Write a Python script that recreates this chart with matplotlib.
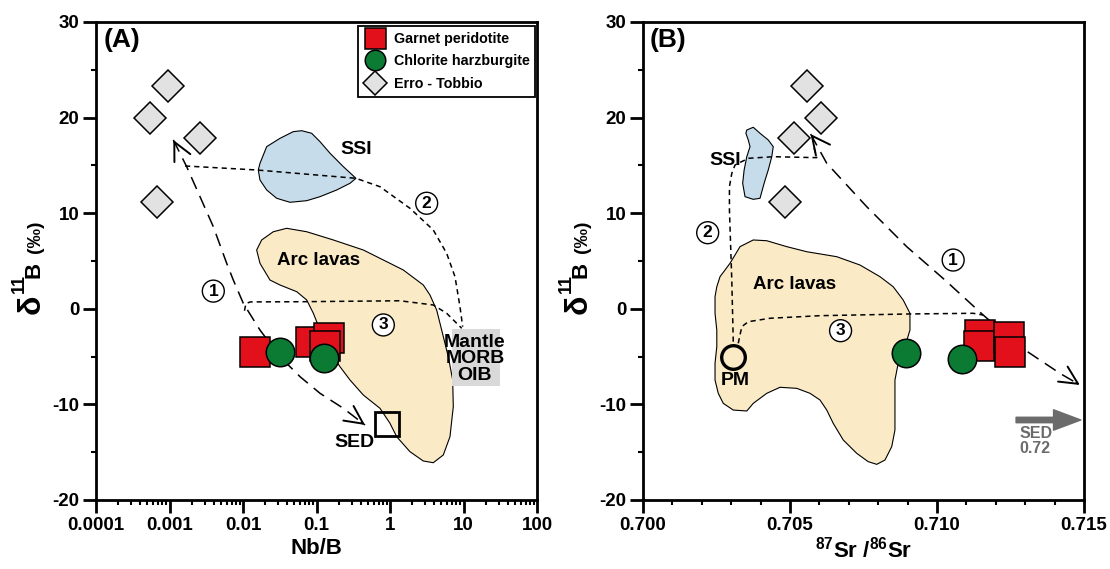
import numpy as np
import matplotlib
matplotlib.use('Agg')
import matplotlib.pyplot as plt
from matplotlib.patches import Rectangle
from matplotlib.ticker import MultipleLocator, LogLocator, NullFormatter, FixedLocator, FixedFormatter

plt.rcParams['font.family'] = ['Liberation Sans', 'DejaVu Sans']
plt.rcParams['font.weight'] = 'bold'
plt.rcParams['axes.unicode_minus'] = False
plt.rcParams['mathtext.fontset'] = 'custom'
plt.rcParams['mathtext.rm'] = 'Liberation Sans:bold'
plt.rcParams['mathtext.default'] = 'rm'

# ---------------- colours ----------------
RED = '#E2101B'
GREEN = '#0B7A33'
DIAM = '#E2E2E2'
SSI_C = '#C6DCEA'
ARC_C = '#FAEBC6'
BOX_C = '#D9D9D9'

# ---------------- data: panel A (Nb/B) ----------------
gp_nbb = [0.0144, 0.0841, 0.149, 0.1306]
gp_d11b_a = [-4.52, -3.44, -3.02, -3.92]
ch_nbb = [0.0318, 0.1276]
ch_d11b_a = [-4.49, -5.11]
et_nbb = [0.000964, 0.000543, 0.0026, 0.000682]
et_d11b = [23.31, 19.99, 17.90, 11.14]
sed_nbb = [0.90]
sed_d11b = [-12.0]

arc_a_log = [-1.746, -1.814, -1.769, -1.633, -1.497, -1.269, -1.133, -1.043, -0.952, -0.816,
             -0.680, -0.544, -0.363, -0.136, 0.0, 0.091, 0.272, 0.453, 0.589, 0.725,
             0.816, 0.861, 0.853, 0.793, 0.703, 0.635, 0.544, 0.453, 0.363, 0.181,
             -0.045, -0.363, -0.771, -1.133, -1.406, -1.588]
arc_a_y = [7.2, 6.15, 4.76, 3.01, 2.49, 1.79, 0.92, -0.47, -2.22, -4.49,
           -6.06, -7.45, -9.02, -10.41, -11.98, -13.38, -14.95, -15.92, -16.10, -15.29,
           -13.38, -10.24, -7.45, -5.01, -2.22, -0.13, 1.44, 2.49, 3.01, 4.06,
           4.93, 6.15, 7.2, 8.06, 8.42, 8.06]
ssi_a_log = [-1.769, -1.678, -1.497, -1.316, -1.202, -1.066, -0.952, -0.816, -0.635, -0.463,
             -0.544, -0.725, -0.952, -1.133, -1.361, -1.542, -1.678, -1.769, -1.792]
ssi_a_y = [15.22, 16.96, 17.83, 18.53, 18.63, 18.36, 17.48, 16.27, 14.87, 13.65,
           13.13, 12.43, 11.73, 11.31, 11.14, 11.56, 12.43, 13.47, 14.52]

path1_a_log = [-2.948, -2.925, -2.766, -2.585, -2.404, -2.222, -2.132, -1.996, -1.769,
               -1.497, -1.224, -0.952, -0.635, -0.340]
path1_a_y = [17.66, 17.31, 14.86, 11.73, 8.59, 4.76, 3.01, 0.57, -2.22,
             -5.01, -7.10, -8.84, -10.41, -12.15]
path2_a_log = [-2.789, -1.814, -0.463, -0.136, 0.272, 0.589, 0.771, 0.884, 0.907, 0.952, 0.989]
path2_a_y = [14.94, 14.52, 13.65, 12.77, 10.51, 8.24, 5.80, 3.36, 2.31, 0.22, -1.87]
path3_a_log = [-1.98, -1.96, -1.90, -1.224, 0.136, 0.589, 0.771, 0.976]
path3_a_y = [-0.2, 0.55, 0.72, 0.74, 0.84, 0.40, -0.47, -2.04]

xticks_a = [0.0001, 0.001, 0.01, 0.1, 1, 10, 100]
xticklabels_a = ['0.0001', '0.001', '0.01', '0.1', '1', '10', '100']

# ---------------- data: panel B (87Sr/86Sr) ----------------
gp_sr = [0.71146, 0.71142, 0.71244, 0.71247]
gp_d11b_b = [-2.74, -3.89, -2.98, -4.52]
ch_sr = [0.70895, 0.71084]
ch_d11b_b = [-4.66, -5.22]
et_sr = [0.70557, 0.70605, 0.70515, 0.70484]
pm_sr = [0.70305]
pm_d11b = [-5.0]

arc_b_x = [0.70296, 0.70330, 0.70375, 0.70421, 0.70489, 0.70557, 0.70659, 0.70738, 0.70806,
           0.70851, 0.70885, 0.70908, 0.70908, 0.70891, 0.70868, 0.70857, 0.70857, 0.70857,
           0.70846, 0.70823, 0.70795, 0.70766, 0.70727, 0.70681, 0.70647, 0.70625, 0.70602,
           0.70568, 0.70523, 0.70466, 0.70421, 0.70375, 0.70353, 0.70307, 0.70273, 0.70256,
           0.70245, 0.70245, 0.70251, 0.70251, 0.70245, 0.70245, 0.70251, 0.70262, 0.70279]
arc_b_y = [4.76, 6.5, 7.2, 7.12, 6.5, 5.97, 5.45, 4.58, 3.36,
           2.31, 0.92, -0.47, -2.22, -3.96, -5.7, -7.45, -10.24, -12.68,
           -14.42, -15.82, -16.27, -15.99, -15.12, -13.72, -11.98, -10.59, -9.54,
           -8.84, -8.32, -8.21, -8.84, -9.89, -10.69, -10.59, -9.89, -8.84,
           -7.45, -5.7, -3.96, -2.22, -0.47, 1.27, 2.31, 3.36, 4.06]
ssi_b_x = [0.70353, 0.70375, 0.70398, 0.70426, 0.70443, 0.70438, 0.70426, 0.70412, 0.70398,
           0.70375, 0.70347, 0.70339, 0.70344, 0.70353, 0.70364, 0.70358, 0.70350]
ssi_b_y = [18.7, 18.99, 18.36, 17.66, 16.96, 15.91, 14.52, 13.13, 11.56,
           11.45, 11.73, 13.13, 14.52, 15.91, 16.96, 17.66, 18.36]

path1_b_x = [0.70570, 0.70625, 0.70761, 0.70897, 0.71027, 0.71157, 0.71282, 0.71418, 0.71486]
path1_b_y = [18.28, 15.22, 10.68, 6.50, 3.01, -0.65, -3.96, -6.75, -7.97]
path2_b_x = [0.70307, 0.70302, 0.70294, 0.70294, 0.70302, 0.70313, 0.70358, 0.70443, 0.70591, 0.70582]
path2_b_y = [-3.44, 3.01, 10.33, 12.77, 14.17, 15.04, 15.74, 15.91, 15.81, 16.82]
path3_b_x = [0.70324, 0.70336, 0.70358, 0.70432, 0.70602, 0.70908, 0.71123, 0.71157]
path3_b_y = [-3.61, -1.87, -1.35, -0.99, -0.72, -0.54, -0.47, -0.65]
sed_arrow_x = [0.71269, 0.71489]
sed_arrow_y = [-11.63, -11.63]

xticks_b = [0.700, 0.705, 0.710, 0.715]
xticklabels_b = ['0.700', '0.705', '0.710', '0.715']
yticks = [-20, -10, 0, 10, 20, 30]
yticklabels = ['-20', '-10', '0', '10', '20', '30']

# ---------------- figure ----------------
fig = plt.figure(figsize=(11.10, 5.69), dpi=100)
axA = fig.add_axes([96 / 1110, 69 / 569, 441 / 1110, 478 / 569])
axB = fig.add_axes([643 / 1110, 69 / 569, 441 / 1110, 478 / 569])

LONG = (8.5, 5.0)
SHORT = (3.4, 2.6)
TICK_FS = 13.5


def style_axes(ax):
    for s in ax.spines.values():
        s.set_linewidth(2.0)
    ax.set_ylim(-20, 30)
    ax.yaxis.set_major_locator(FixedLocator(yticks))
    ax.yaxis.set_major_formatter(FixedFormatter(yticklabels))
    ax.yaxis.set_minor_locator(MultipleLocator(5))
    ax.tick_params(which='major', direction='out', length=9.5, width=2.0, labelsize=TICK_FS, pad=2.5)
    ax.tick_params(which='minor', direction='out', length=3.5, width=1.5)
    ax.tick_params(top=False, right=False, which='both')


def bold_ticks(ax):
    for lab in ax.get_xticklabels() + ax.get_yticklabels():
        lab.set_fontweight('bold')


def arrowhead(ax, tip, prev):
    p1 = ax.transData.transform(tip)
    p0 = ax.transData.transform(prev)
    d = p0 - p1
    d = d / np.hypot(*d) * 4.0
    ax.annotate('', xy=tip, xytext=(d[0] * 0.72, d[1] * 0.72), textcoords='offset points',
                arrowprops=dict(arrowstyle='->,head_length=0.65,head_width=0.32',
                                lw=1.4, color='black', mutation_scale=20,
                                shrinkA=0, shrinkB=0), zorder=6)


def circled(ax, x, y, s):
    ax.text(x, y, s, ha='center', va='center', fontsize=12.5, fontweight='bold', zorder=7,
            bbox=dict(boxstyle='circle,pad=0.2', fc='white', ec='black', lw=1.0))


def ylabel_pieces(ax):
    kw = dict(transform=ax.transAxes, rotation=90, ha='center', va='center', fontweight='bold')
    ax.text(-0.147, 0.410, 'δ', fontsize=23, **kw)
    ax.text(-0.173, 0.452, '11', fontsize=13, **kw)
    ax.text(-0.141, 0.481, 'B', fontsize=16, **kw)
    ax.text(-0.138, 0.551, '(‰)', fontsize=14, **kw)


# ================= Panel A =================
ax = axA
ax.set_xscale('log')
ax.set_xlim(1e-4, 100)
style_axes(ax)
ax.xaxis.set_major_locator(FixedLocator(xticks_a))
ax.xaxis.set_major_formatter(FixedFormatter(xticklabels_a))
ax.xaxis.set_minor_locator(LogLocator(base=10, subs=np.arange(2, 10)))
ax.xaxis.set_minor_formatter(NullFormatter())
bold_ticks(ax)

ax.fill(np.power(10.0, arc_a_log), arc_a_y, fc=ARC_C, ec='black', lw=0.8, zorder=1)
ax.fill(np.power(10.0, ssi_a_log), ssi_a_y, fc=SSI_C, ec='black', lw=0.8, zorder=1)

ax.add_patch(Rectangle((10 ** 0.839, -8.08), 10 ** 1.497 - 10 ** 0.839, 5.93,
                       fc=BOX_C, ec='none', zorder=2))
ax.text(10 ** 1.156, -5.25, 'Mantle\nMORB\nOIB', ha='center', va='center', fontsize=14,
        fontweight='bold', linespacing=0.98, zorder=3)

p1x = np.power(10.0, path1_a_log)
ax.plot(p1x, path1_a_y, color='black', lw=1.1, dashes=LONG, zorder=4)
ax.plot(np.power(10.0, path2_a_log), path2_a_y, color='black', lw=1.1, dashes=SHORT, zorder=4)
ax.plot(np.power(10.0, path3_a_log), path3_a_y, color='black', lw=1.1, dashes=SHORT, zorder=4)
arrowhead(ax, (p1x[0], path1_a_y[0]), (p1x[2], path1_a_y[2]))
arrowhead(ax, (p1x[-1], path1_a_y[-1]), (p1x[-3], path1_a_y[-3]))

circled(ax, 10 ** -2.404, 1.85, '1')
circled(ax, 10 ** 0.499, 11.04, '2')
circled(ax, 10 ** -0.091, -1.69, '3')

ax.text(10 ** -0.458, 16.68, 'SSI', ha='center', va='center', fontsize=14, fontweight='bold', zorder=3)
ax.text(10 ** -0.975, 5.03, 'Arc lavas', ha='center', va='center', fontsize=13.5, fontweight='bold', zorder=3)
ax.text(10 ** -0.49, -14.0, 'SED', ha='center', va='center', fontsize=14, fontweight='bold', zorder=3)

ax.plot(sed_nbb, sed_d11b, 's', ms=17.5, mfc='none', mec='black', mew=2.0, zorder=5)
hg, = ax.plot(gp_nbb, gp_d11b_a, 's', ms=21, mfc=RED, mec='black', mew=1.1, ls='none',
              zorder=8, label='Garnet peridotite')
hc, = ax.plot(ch_nbb, ch_d11b_a, 'o', ms=20.5, mfc=GREEN, mec='black', mew=1.1, ls='none',
              zorder=9, label='Chlorite harzburgite')
hd, = ax.plot(et_nbb, et_d11b, 'D', ms=16.5, mfc=DIAM, mec='black', mew=1.1, ls='none',
              zorder=8, label='Erro - Tobbio')

leg = ax.legend(handles=[hg, hc, hd], loc='upper right', bbox_to_anchor=(0.996, 0.992),
                borderaxespad=0, fancybox=False, edgecolor='black', framealpha=1,
                markerscale=0.72, fontsize=10.3, handlelength=1.55, handletextpad=0.55,
                labelspacing=0.62, borderpad=0.4)
leg.get_frame().set_linewidth(1.3)
leg.set_zorder(10)
for t in leg.get_texts():
    t.set_fontweight('bold')

ax.text(0.018, 0.988, '(A)', transform=ax.transAxes, ha='left', va='top', fontsize=19,
        fontweight='bold')
ax.set_xlabel('Nb/B', fontsize=16, fontweight='bold', labelpad=3)
ylabel_pieces(ax)

# ================= Panel B =================
ax = axB
ax.set_xlim(0.700, 0.715)
style_axes(ax)
ax.xaxis.set_major_locator(FixedLocator(xticks_b))
ax.xaxis.set_major_formatter(FixedFormatter(xticklabels_b))
ax.xaxis.set_minor_locator(MultipleLocator(0.001))
bold_ticks(ax)

ax.fill(arc_b_x, arc_b_y, fc=ARC_C, ec='black', lw=0.8, zorder=1)
ax.fill(ssi_b_x, ssi_b_y, fc=SSI_C, ec='black', lw=0.8, zorder=1)

ax.plot(path1_b_x, path1_b_y, color='black', lw=1.1, dashes=LONG, zorder=4)
ax.plot(path2_b_x, path2_b_y, color='black', lw=1.1, dashes=SHORT, zorder=4)
ax.plot(path3_b_x, path3_b_y, color='black', lw=1.1, dashes=SHORT, zorder=4)
arrowhead(ax, (path1_b_x[0], path1_b_y[0]), (path1_b_x[2], path1_b_y[2]))
arrowhead(ax, (path1_b_x[-1], path1_b_y[-1]), (path1_b_x[-3], path1_b_y[-3]))

circled(ax, 0.71055, 5.1, '1')
circled(ax, 0.70220, 7.96, '2')
circled(ax, 0.70672, -2.29, '3')

ax.text(0.70279, 15.49, 'SSI', ha='center', va='center', fontsize=14, fontweight='bold', zorder=3)
ax.text(0.70517, 2.54, 'Arc lavas', ha='center', va='center', fontsize=13.5, fontweight='bold', zorder=3)
ax.text(0.70314, -7.55, 'PM', ha='center', va='center', fontsize=14, fontweight='bold', zorder=3)

ax.annotate('', xy=(sed_arrow_x[1], sed_arrow_y[1]), xytext=(sed_arrow_x[0], sed_arrow_y[0]),
            arrowprops=dict(arrowstyle='simple,head_length=1.4,head_width=1.05,tail_width=0.28',
                            color='#6B6B6B', mutation_scale=14, shrinkA=0, shrinkB=0), zorder=5)
ax.text(0.71337, -13.05, 'SED', ha='center', va='center', fontsize=11.5, fontweight='bold',
        color='#6B6B6B', zorder=5)
ax.text(0.71334, -14.6, '0.72', ha='center', va='center', fontsize=11.5, fontweight='bold',
        color='#6B6B6B', zorder=5)

ax.plot(pm_sr, pm_d11b, 'o', ms=17, mfc='none', mec='black', mew=2.4, zorder=5)
ax.plot(gp_sr, gp_d11b_b, 's', ms=21, mfc=RED, mec='black', mew=1.1, ls='none', zorder=8)
ax.plot(ch_sr, ch_d11b_b, 'o', ms=20.5, mfc=GREEN, mec='black', mew=1.1, ls='none', zorder=9)
ax.plot(et_sr, et_d11b, 'D', ms=16.5, mfc=DIAM, mec='black', mew=1.1, ls='none', zorder=8)

ax.text(0.014, 0.988, '(B)', transform=ax.transAxes, ha='left', va='top', fontsize=19,
        fontweight='bold')
ax.set_xlabel(r'$^{87}$Sr /$^{86}$Sr', fontsize=16, fontweight='bold', labelpad=2)
ylabel_pieces(ax)

fig.savefig('out.png', dpi=100)
